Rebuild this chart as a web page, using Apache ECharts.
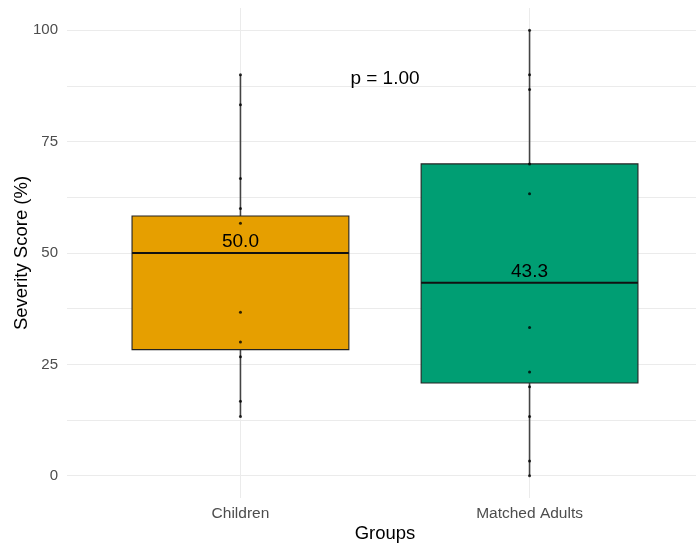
<!DOCTYPE html>
<html>
<head>
<meta charset="utf-8">
<script src="https://cdn.jsdelivr.net/npm/echarts@6/dist/echarts.min.js"></script>
<style>
  html, body { margin: 0; padding: 0; background: #ffffff; }
  #chart { width: 696px; height: 545px; }
</style>
</head>
<body>
<div id="chart"></div>
<script>
// Groups and their box summaries (severity score, %)
const groups = ['Children', 'Matched Adults'];
const groupColors = ['#E69F00', '#009E73'];
const whiskerLow = [13.3, 0.0];
const q1 = [28.3, 20.8];
const median = [50.0, 43.3];
const q3 = [58.3, 70.0];
const whiskerHigh = [90.0, 100.0];

// Individual scores
const childrenScores = [90.0, 83.3, 66.7, 60.0, 56.7, 36.7, 30.0, 26.7, 16.7, 13.3];
const adultScores = [100.0, 90.0, 86.7, 70.0, 63.3, 33.3, 23.3, 20.0, 13.3, 3.3, 0.0];

// Axis ticks
const yLabelTicks = [0, 25, 50, 75, 100];
const yGridTicks = [0, 12.5, 25, 37.5, 50, 62.5, 75, 87.5, 100];
const xTicks = [1, 2];

const pValueText = 'p = 1.00';

const FONT = "'Liberation Sans', Arial, sans-serif";
const BOX_HALF = 0.375;          // half of box width, in group units
const P_LABEL_AT = [1.5, 89.2];  // p-value annotation anchor (data coords)

const boxData = groups.map((g, i) => [i + 1, whiskerLow[i], q1[i], median[i], q3[i], whiskerHigh[i]]);
const pointData = []
  .concat(childrenScores.map(v => [1, v]))
  .concat(adultScores.map(v => [2, v]));
const medianLabelData = groups.map((g, i) => [i + 1, median[i]]);

const chart = echarts.init(document.getElementById('chart'));

chart.setOption({
  animation: false,
  backgroundColor: '#ffffff',
  grid: { left: 67, top: 8, width: 636, height: 490, outerBoundsMode: 'none', containLabel: false },
  xAxis: {
    type: 'value',
    min: 0.4,
    max: 2.6,
    axisLine: { show: false },
    axisTick: { show: false, customValues: xTicks },
    axisLabel: {
      customValues: xTicks,
      formatter: v => groups[Math.round(v) - 1],
      color: '#4d4d4d',
      fontSize: 15.5,
      fontFamily: FONT,
      margin: 8
    },
    splitLine: { show: true, lineStyle: { color: '#ebebeb', width: 1 } },
    name: 'Groups',
    nameLocation: 'middle',
    nameGap: 26,
    nameMoveOverlap: false,
    nameTextStyle: { color: '#000000', fontSize: 18.5, fontFamily: FONT }
  },
  yAxis: {
    type: 'value',
    min: -5,
    max: 105,
    axisLine: { show: false },
    axisTick: { show: false, customValues: yGridTicks },
    axisLabel: {
      customValues: yLabelTicks,
      color: '#4d4d4d',
      fontSize: 15,
      fontFamily: FONT,
      margin: 9
    },
    splitLine: { show: true, lineStyle: { color: '#ebebeb', width: 1 } },
    name: 'Severity Score (%)',
    nameLocation: 'middle',
    nameGap: 36,
    nameMoveOverlap: false,
    nameTextStyle: { color: '#000000', fontSize: 18.5, fontFamily: FONT }
  },
  series: [
    {
      // boxes with whiskers and median line
      type: 'custom',
      data: boxData,
      z: 2,
      renderItem: (params, api) => {
        const x = api.value(0);
        const lo = api.coord([x, api.value(1)]);
        const b1 = api.coord([x, api.value(2)]);
        const md = api.coord([x, api.value(3)]);
        const b3 = api.coord([x, api.value(4)]);
        const hi = api.coord([x, api.value(5)]);
        const left = api.coord([x - BOX_HALF, api.value(3)])[0];
        const right = api.coord([x + BOX_HALF, api.value(3)])[0];
        const cx = lo[0];
        const color = groupColors[params.dataIndex];
        return {
          type: 'group',
          children: [
            { type: 'line', shape: { x1: cx, y1: lo[1], x2: cx, y2: b1[1] },
              style: { stroke: '#444444', lineWidth: 1.6 } },
            { type: 'line', shape: { x1: cx, y1: b3[1], x2: cx, y2: hi[1] },
              style: { stroke: '#444444', lineWidth: 1.6 } },
            { type: 'rect', shape: { x: left, y: b3[1], width: right - left, height: b1[1] - b3[1] },
              style: { fill: color, stroke: '#222222', lineWidth: 1.1 } },
            { type: 'line', shape: { x1: left, y1: md[1], x2: right, y2: md[1] },
              style: { stroke: '#111111', lineWidth: 2 } }
          ]
        };
      }
    },
    {
      // individual observations
      type: 'scatter',
      data: pointData,
      z: 3,
      symbol: 'circle',
      symbolSize: 3,
      itemStyle: { color: '#000000' },
      silent: true
    },
    {
      // median value labels
      type: 'custom',
      data: medianLabelData,
      z: 4,
      renderItem: (params, api) => {
        const p = api.coord([api.value(0), api.value(1)]);
        return {
          type: 'text',
          x: p[0],
          y: p[1] - 2,
          style: {
            text: api.value(1).toFixed(1),
            fill: '#000000',
            fontSize: 19,
            fontFamily: FONT,
            align: 'center',
            verticalAlign: 'bottom'
          }
        };
      }
    },
    {
      // p-value annotation
      type: 'custom',
      data: [P_LABEL_AT],
      z: 4,
      renderItem: (params, api) => {
        const p = api.coord([api.value(0), api.value(1)]);
        return {
          type: 'text',
          x: p[0],
          y: p[1],
          style: {
            text: pValueText,
            fill: '#000000',
            fontSize: 19,
            fontFamily: FONT,
            align: 'center',
            verticalAlign: 'middle'
          }
        };
      }
    }
  ]
});
</script>
</body>
</html>
